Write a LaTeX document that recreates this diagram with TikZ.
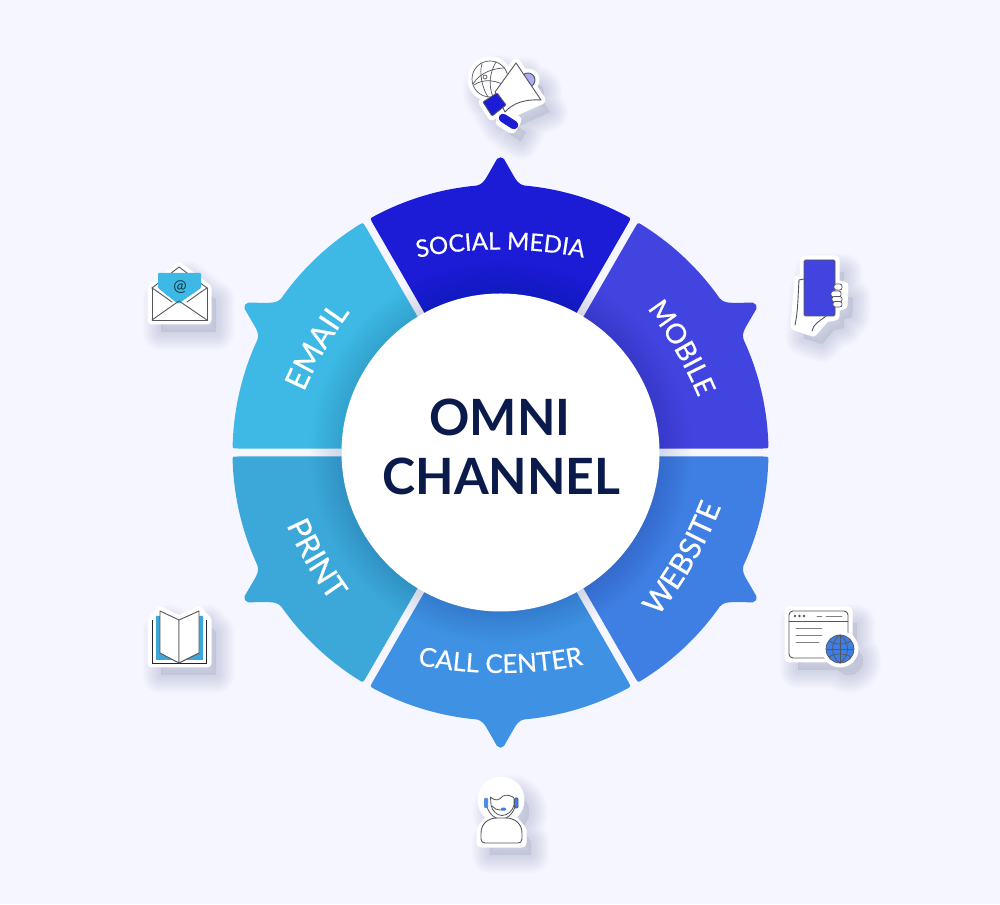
\documentclass[tikz,border=0pt]{standalone}
\usepackage{fontspec}
\setmainfont{Lato}
\newfontfamily\segfont[FakeBold=0.5]{Lato}
\usetikzlibrary{decorations.text}
\definecolor{bgc}{HTML}{F5F6FF}
\definecolor{navy}{HTML}{0A1A4A}
\definecolor{segA}{HTML}{1C1CD6}
\definecolor{segB}{HTML}{4244E0}
\definecolor{segC}{HTML}{3F7FE3}
\definecolor{segD}{HTML}{3F92E3}
\definecolor{segE}{HTML}{3CA8DA}
\definecolor{segF}{HTML}{3EB9E5}
\definecolor{inkc}{HTML}{55555F}
\definecolor{shadowc}{HTML}{8088A8}
\tikzset{
  iconline/.style={draw=inkc,line width=0.9pt,line join=round,line cap=round},
  thinline/.style={draw=inkc,line width=0.7pt,line cap=round},
  seglabel/.style={inner sep=0pt}
}
\newcommand\segment[2]{%
  \begin{scope}[shift={(500.5,451.5)},rotate=#1]
    \fill[#2] (-28.4:140) -- (-29.13:262) .. controls (-29.13:268) .. (-28.3:268)
      arc[start angle=-28.3,end angle=-5.1,radius=268]
      .. controls (268,-18.5) and (272,-15.8) .. (276,-13.5) -- (293.5,-3.5)
      .. controls (295.8,-1.5) and (295.8,1.5) .. (293.5,3.5) -- (276,13.5)
      .. controls (272,15.8) and (268,18.5) .. (266.9,23.8)
      arc[start angle=5.1,end angle=28.3,radius=268]
      .. controls (29.13:268) .. (29.13:262) -- (28.4:140) -- cycle;
  \end{scope}}
% #1 baseline radius on the axis, #2 axis angle, #3 half span (sign sets the direction), #4 size, #5 text
\newcommand\arctext[5]{%
  \pgfmathsetmacro\arcshift{#1-420}%
  \begin{scope}[shift={(500.5,451.5)},rotate=#2,shift={(\arcshift,0)}]
    \path[decorate,decoration={text along path,text align=center,
      text={|\segfont\fontsize{#4}{#4}\selectfont\color{white}|#5}}]
      (#3:420) arc[start angle=#3,end angle=-#3,radius=420];
  \end{scope}}
\newcommand\sticker[1]{%
  \begin{scope}[shift={(9,12)}]
    \foreach \w in {1,4,...,37}{\path[draw=shadowc,fill=shadowc,draw opacity=.022,fill opacity=.012,line width=\w pt,line join=round] #1;}
  \end{scope}
  \path[draw=white,fill=white,line width=9pt,line join=round] #1;}
\begin{document}
\begin{tikzpicture}[x=1pt,y=1pt]
\useasboundingbox (0,0) rectangle (1000,904);
\fill[bgc] (0,0) rectangle (1000,904);
\segment{90}{segA}
\segment{30}{segB}
\segment{-30}{segC}
\segment{-90}{segD}
\segment{-150}{segE}
\segment{150}{segF}
\foreach \r in {161,164,...,191}{\fill[navy,opacity=.013] (500.5,451.5) circle[radius=\r];}
\fill[white] (500.5,451.5) circle[radius=159];
\node[seglabel,text=navy,font=\bfseries\fontsize{50}{60}\selectfont] (omni) at (500,487) {OMNI};
\node[seglabel,text=navy,font=\bfseries\fontsize{50}{60}\selectfont] (channel) at (501.5,428) {CHANNEL};
\arctext{203}{90}{25}{24}{SOCIAL MEDIA}
\arctext{202}{30}{25}{27.5}{MOBILE}
\arctext{223}{-30}{-25}{30}{WEBSITE}
\arctext{220.5}{-90}{-25}{26}{CALL CENTER}
\arctext{224}{-150}{-25}{31}{PRINT}
\arctext{203}{150}{25}{31}{EMAIL}
\begin{scope}[shift={(0,904)},yscale=-1]
  % megaphone
  \sticker{(490,79) circle[radius=18] (516,63) -- (541,100) -- (505,116) -- (495,92) -- cycle (528,80) circle[radius=7] (483,102) -- (497,93) -- (506,105) -- (492,116) -- cycle (505,113) -- (517,120) -- (512,129) -- (500,122) -- cycle}
  \path[iconline,fill=segB!45!white] (528,80) circle[radius=7];
  \path[thinline] (490,79) circle[radius=18];
  \path[thinline] (473,84) .. controls (480,72) and (495,68) .. (505,68);
  \path[thinline] (474,85) .. controls (484,78) and (498,80) .. (508,88);
  \path[thinline] (496,62) .. controls (490,72) and (488,85) .. (493,97);
  \path[thinline] (482,64) .. controls (479,72) and (482,88) .. (488,97);
  \path[thinline,fill=white] (485,77) circle[radius=2];
  \path[iconline,fill=white] (516,63) -- (541,100) .. controls (525,99) and (513,103) .. (505,112) -- (495,92) -- cycle;
  \path[iconline,fill=segA,rounded corners=1pt] (483,102) -- (497,93) -- (506,105) -- (492,116) -- cycle;
  \draw[segA,line width=8.5pt,line cap=round] (503,118) -- (514,125);
  % phone
  \sticker{(804,260) -- (835,260) -- (835,284) -- (844,286) -- (843,305) -- (835,307) -- (835,316) -- (825,318) -- (813,332) -- (795,326) -- (799,280) -- (804,280) -- cycle}
  \path[iconline] (804,279) -- (799,280) .. controls (798,295) and (798,312) .. (795,325);
  \path[iconline] (812,331) .. controls (813,324) and (820,321) .. (826,316);
  \path[iconline,fill=segB,rounded corners=1.5pt] (804,260) rectangle (835,316);
  \path[thinline,fill=white,rounded corners=2.2pt] (834,284) rectangle (842,290);
  \path[thinline,fill=white,rounded corners=2.2pt] (831,291) rectangle (841,297);
  \path[thinline,fill=white,rounded corners=2.2pt] (832,296.5) rectangle (842,302);
  \path[thinline,fill=white,rounded corners=2.2pt] (833,301.5) rectangle (842,307);
  % website
  \sticker{(789,611) -- (848,611) -- (848,658) -- (789,658) -- cycle (840,649) circle[radius=14]}
  \path[iconline,fill=white,rounded corners=4pt] (789,611) rectangle (848,658);
  \path[iconline] (789,621) -- (848,621);
  \fill[inkc] (795,616) circle[radius=1.4] (799.5,616) circle[radius=1.4] (804,616) circle[radius=1.4];
  \path[iconline,draw=gray] (817,616) -- (822,616) (826,616) -- (842,616) (796,628) -- (822,628) (796,635) -- (822,635) (796,642) -- (819,642);
  \fill[white] (840,649) circle[radius=18];
  \path[thinline,fill=segC] (840,649) circle[radius=14];
  \path[thinline] (827,649) -- (853,649) (840,635) -- (840,663);
  \path[thinline] (840,635) .. controls (830,642) and (830,656) .. (840,663) .. controls (850,656) and (850,642) .. (840,635);
  \path[thinline] (829,641) .. controls (835,645) and (845,645) .. (851,641) (829,657) .. controls (835,653) and (845,653) .. (851,657);
  % agent
  \sticker{(501,800) circle[radius=19] (490,818) -- (512,818) -- (522,830) -- (522,843) -- (481,843) -- (481,830) -- cycle}
  \path[iconline,line width=.8pt] (486,800) arc[start angle=180,end angle=0,x radius=15,y radius=19];
  \path[iconline,line width=.8pt] (490.5,797) .. controls (496,802) and (499,800) .. (503,796) .. controls (507,794) and (512,796) .. (514,798) -- (514,805) .. controls (513,811) and (507,815.5) .. (502,815.5) .. controls (497,815.5) and (492,811) .. (491,805) -- cycle;
  \path[iconline,line width=.8pt] (492,806) .. controls (494,809) and (497,810) .. (502,810);
  \fill[segC,rounded corners=1pt] (501,807.7) rectangle (506,810.7);
  \fill[segC!90!white,rounded corners=1pt] (484,798) rectangle (488,808);
  \path[iconline,line width=.7pt,fill=segC,rounded corners=1pt] (514.5,798) rectangle (518,808);
  \path[iconline,fill=white] (481,839) -- (481,833) .. controls (481,824) and (488,818) .. (497,818) -- (506,818) .. controls (515,818) and (522,824) .. (522,833) -- (522,839) .. controls (522,842) and (520,843) .. (518,843) -- (485,843) .. controls (482.5,843) and (481,841.5) .. (481,839) -- cycle;
  % book
  \sticker{(160,611) -- (179,620) -- (199,611) -- (203,616) -- (207,620) -- (207,663) -- (152,663) -- (152,620) -- (156,616) -- cycle}
  \draw[black!85,line width=.9pt] (152.5,620) -- (152.5,663) -- (206.5,663) -- (206.5,620);
  \fill[segE] (156,616) -- (160,616) -- (179,650) -- (199,616) -- (203,616) -- (203,660) -- (186,660) -- (179,663) -- (172,660) -- (156,660) -- cycle;
  \path[iconline,fill=white] (160,611) -- (179,620) -- (179,663) -- (160,653) -- cycle;
  \path[iconline,fill=white] (199,611) -- (179,620) -- (179,663) -- (199,653) -- cycle;
  % email
  \sticker{(179,267) -- (207,288) -- (207,320) -- (152,320) -- (152,288) -- cycle}
  \path[iconline] (152,288) -- (179,267) -- (207,288);
  \path[draw=none,fill=segF,rounded corners=1pt] (158,273) -- (201,273) -- (201,288) -- (178,304) -- (158,288) -- cycle;
  \node[inner sep=0pt,text=black!70!segF,font=\fontsize{16}{16}\selectfont] (atsign) at (180,287) {@};
  \path[iconline] (152,288) -- (152,320) -- (207,320) -- (207,288);
  \path[iconline] (152,288) -- (158,292) (207,288) -- (201,292);
  \path[iconline] (152,320) -- (179,301) -- (207,320);
  \path[iconline] (158,292) -- (172,302) (201,292) -- (187,302);
\end{scope}
\end{tikzpicture}
\end{document}
